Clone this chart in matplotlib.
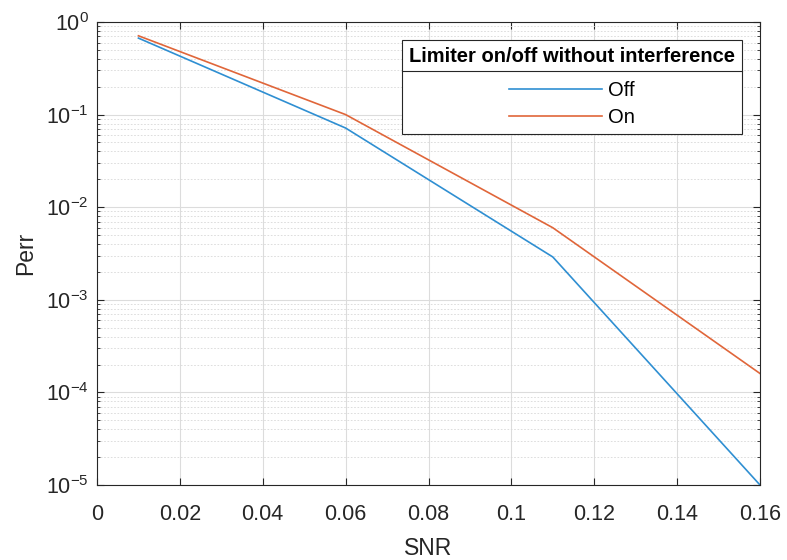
import matplotlib
matplotlib.use("Agg")
import matplotlib.pyplot as plt
from matplotlib.ticker import FixedLocator, FuncFormatter, LogLocator, NullFormatter
from matplotlib.lines import Line2D

snr = [0.01, 0.06, 0.11, 0.16]
perr_off = [0.67, 0.0716, 0.0029, 1.0e-5]
perr_on = [0.71, 0.100, 0.0060, 1.6e-4]
labels = ["Off", "On"]
legend_title = "Limiter on/off without interference"
xticks = [0, 0.02, 0.04, 0.06, 0.08, 0.1, 0.12, 0.14, 0.16]

plt.rcParams['font.family'] = ['Liberation Sans', 'DejaVu Sans']
plt.rcParams['mathtext.default'] = 'regular'

fig = plt.figure(figsize=(7.87, 5.6), dpi=100)
ax = fig.add_axes([97/787, 1-485/560, (760-97)/787, (485-22)/560])

ax.plot(snr, perr_off, color='#2f8fd2', lw=1.2, label=labels[0])
ax.plot(snr, perr_on, color='#e0663a', lw=1.2, label=labels[1])

ax.set_yscale('log')
ax.set_xlim(0, 0.16)
ax.set_ylim(1e-5, 1)
ax.xaxis.set_major_locator(FixedLocator(xticks))
ax.xaxis.set_major_formatter(FuncFormatter(lambda v, p: '%g' % v))
ax.yaxis.set_major_locator(LogLocator(base=10, numticks=10))
ax.yaxis.set_minor_locator(LogLocator(base=10, subs=range(2, 10), numticks=20))
ax.yaxis.set_minor_formatter(NullFormatter())

dark = '#262626'
for s in ax.spines.values():
    s.set_color(dark)
    s.set_linewidth(0.8)
ax.tick_params(which='both', direction='in', top=True, right=True, colors=dark, labelsize=15.5)
ax.tick_params(which='major', length=5, width=0.8)
ax.tick_params(which='minor', length=2.5, width=0.6)
ax.tick_params(axis='x', pad=14)
ax.tick_params(axis='y', pad=6)

ax.grid(True, which='major', color='#dcdcdc', lw=0.8, ls='-')
ax.yaxis.grid(True, which='minor', color='#d8d8d8', lw=0.6, ls=(0, (2, 2)))
ax.set_axisbelow(True)

ax.set_xlabel('SNR', fontsize=16.5, color=dark, labelpad=8)
ax.set_ylabel('Perr', fontsize=16.5, color=dark, labelpad=6)

leg = ax.legend(loc='upper right', bbox_to_anchor=((742-97)/663, 1-(40-22)/463),
                title=legend_title, fontsize=14.5, fancybox=False, framealpha=1,
                edgecolor=dark, handlelength=4.6, handletextpad=0.3,
                borderpad=0.35, labelspacing=0.4, borderaxespad=0)
leg.get_title().set_fontweight('bold')
leg.get_title().set_fontsize(14.5)
leg._legend_box.sep = 11
leg.get_frame().set_linewidth(0.8)

fig.canvas.draw()
r = fig.canvas.get_renderer()
fb = leg.get_frame().get_window_extent(r)
tb = leg.get_title().get_window_extent(r)
yline = tb.y0 - 5
inv = fig.transFigure.inverted()
(x0, y0) = inv.transform((fb.x0, yline))
(x1, _) = inv.transform((fb.x1, yline))
fig.add_artist(Line2D([x0, x1], [y0, y0], color=dark, lw=0.8, transform=fig.transFigure, zorder=10))

fig.savefig('out.png', dpi=100)
